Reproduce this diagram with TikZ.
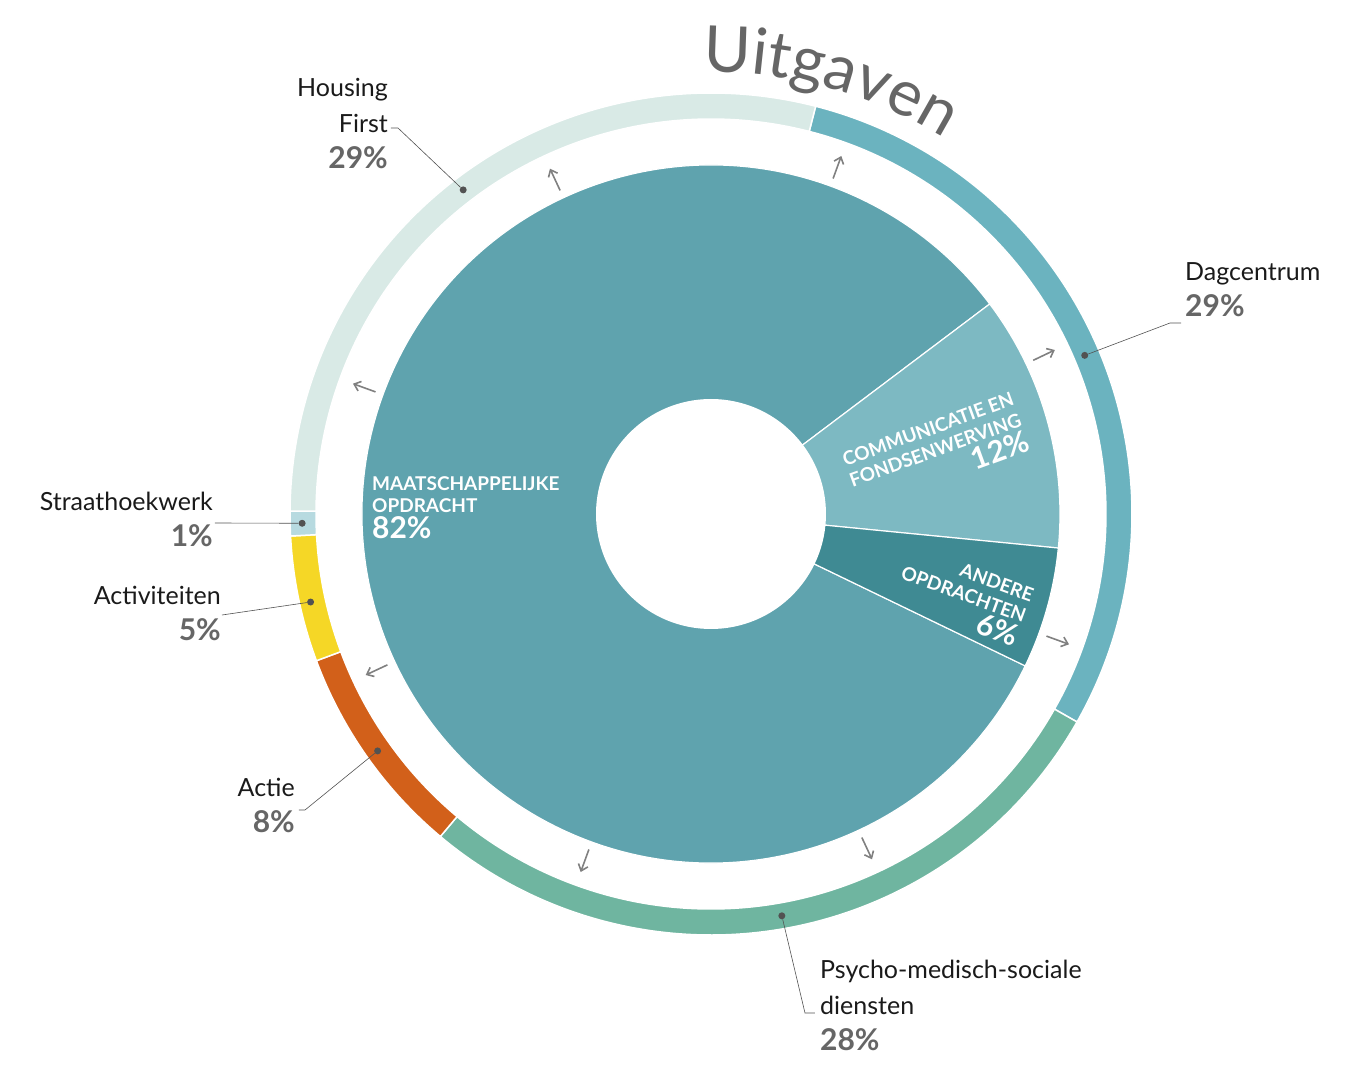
\documentclass[tikz,border=0pt]{standalone}
\usepackage{fontspec}
\setmainfont{Lato}
\usetikzlibrary{decorations.text,arrows.meta}
\definecolor{cDag}{HTML}{6BB3BF}
\definecolor{cHous}{HTML}{D9EAE6}
\definecolor{cPsy}{HTML}{6FB5A0}
\definecolor{cActie}{HTML}{D2601A}
\definecolor{cActiv}{HTML}{F5D726}
\definecolor{cStraat}{HTML}{B7DAE0}
\definecolor{cMaat}{HTML}{5FA3AE}
\definecolor{cComm}{HTML}{7DB9C2}
\definecolor{cAnd}{HTML}{3F8A93}
\definecolor{cTxt}{HTML}{1A1A1A}
\definecolor{cPct}{HTML}{666666}
\newcommand{\ringseg}[3]{\fill[#1,draw=white,line width=1.5pt] (#2:395) arc (#2:#3:395) -- (#3:421) arc (#3:#2:421) -- cycle;}
\newcommand{\pieseg}[3]{\fill[#1,draw=white,line width=1.2pt] (0,0) -- (#2:349) arc (#2:#3:349) -- cycle;}
\tikzset{
  lbl/.style={font=\fontsize{25}{36}\selectfont, text=cTxt, inner sep=0pt},
  inlbl/.style={font=\fontsize{19}{22}\selectfont\bfseries, text=white, inner sep=0pt},
  dot/.style={circle, fill=cPct!80!black, inner sep=0pt, minimum size=7pt},
  lead/.style={draw=cPct!80!black, line width=0.6pt},
  arr/.style={-{Straight Barb[length=6pt,width=10pt]}, draw=gray, line width=1.6pt}
}
\newcommand{\pct}[1]{{\fontsize{30}{36}\selectfont\bfseries\color{cPct}#1}}
\newcommand{\inpct}[1]{{\fontsize{30}{30}\selectfont #1}}
\begin{document}
\begin{tikzpicture}[x=1pt,y=1pt]
\useasboundingbox (-711,-562) rectangle (650,514);
% outer ring
\ringseg{cDag}{75.6}{-29.6}
\ringseg{cPsy}{-29.6}{-130}
\ringseg{cActie}{230}{200.4}
\ringseg{cActiv}{200.4}{183}
\ringseg{cStraat}{183}{179.6}
\ringseg{cHous}{179.6}{75.6}
% inner pie
\pieseg{cMaat}{-25.8}{-323}
\pieseg{cComm}{37}{-5.6}
\pieseg{cAnd}{-5.6}{-25.8}
\fill[white] (0,0) circle (115);
% arrows
\foreach \a in {115,70,25.5,-20,-65,-110,205,160}
  \draw[arr] (\a:357) -- (\a:381);
% title
\path[decorate, decoration={text along path, text align=left,
  text={|\fontsize{64}{64}\selectfont\color{cPct}|Uitgaven}}] (91:442) arc (91:55:442);
% pie labels
\node[inlbl, align=left, anchor=north west] (tMaat) at (-339,38)
  {MAATSCHAPPELIJKE\\OPDRACHT\\[3pt]\inpct{82\%}};
\node[inlbl, align=right, rotate=20] (tComm) at (225,62)
  {COMMUNICATIE EN\\FONDSENWERVING\\[3pt]\inpct{12\%}};
\node[inlbl, align=right, rotate=-20] (tAnd) at (252,-82)
  {ANDERE\\OPDRACHTEN\\[3pt]\inpct{6\%}};
% labels
\node[lbl, align=right, anchor=north east] (tHous) at (-323,436) {Housing\\First\\\pct{29\%}};
\node[lbl, align=left, anchor=north west] (tDag) at (474,252) {Dagcentrum\\\pct{29\%}};
\node[lbl, align=right, anchor=north east] (tStraat) at (-498,22) {Straathoekwerk\\\pct{1\%}};
\node[lbl, align=right, anchor=north east] (tActiv) at (-490,-72) {Activiteiten\\\pct{5\%}};
\node[lbl, align=right, anchor=north east] (tActie) at (-416,-264) {Actie\\\pct{8\%}};
\node[lbl, align=left, anchor=north west] (tPsy) at (109,-446) {Psycho-medisch-sociale\\diensten\\\pct{28\%}};
% dots and leaders
\node[dot] (dHous) at (127.4:408) {};
\node[dot] (dDag) at (23:406) {};
\node[dot] (dStraat) at (181.3:409) {};
\node[dot] (dActiv) at (192.4:410) {};
\node[dot] (dActie) at (215.4:409) {};
\node[dot] (dPsy) at (-80:408) {};
\coordinate (kHous) at (-313,386);
\coordinate (kDag) at (459,191);
\coordinate (kActie) at (-406,-296);
\coordinate (kPsy) at (94,-499);
\draw[lead] (dHous) -- (kHous) -- (-320,386);
\draw[lead] (dDag) -- (kDag) -- (470,191);
\draw[lead] (dStraat) -- (-496,-9);
\draw[lead] (dActiv) -- (-489,-101);
\draw[lead] (dActie) -- (kActie) -- (-412,-296);
\draw[lead] (dPsy) -- (kPsy) -- (104,-499);
\end{tikzpicture}
\end{document}
